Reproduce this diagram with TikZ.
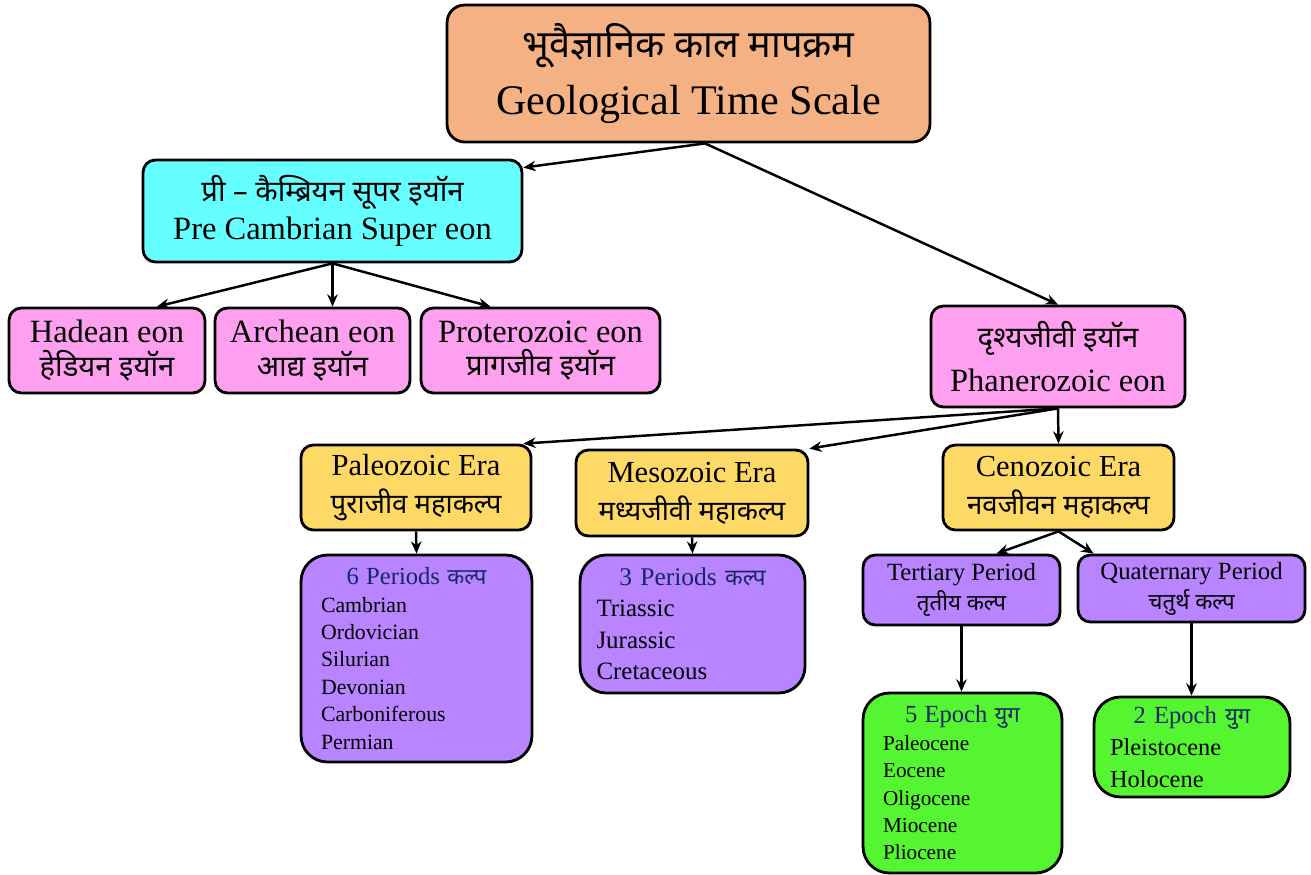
\documentclass[tikz,border=0pt]{standalone}
\usepackage{fontspec}
\setmainfont{Liberation Serif}
\newfontfamily\hin[Script=Devanagari,Scale=0.9]{Noto Sans}
\usetikzlibrary{arrows.meta,positioning}
\definecolor{titlefill}{HTML}{F4B183}
\definecolor{cyanfill}{HTML}{66FFFF}
\definecolor{eonfill}{HTML}{FF9FEF}
\definecolor{erafill}{HTML}{FFD966}
\definecolor{perfill}{HTML}{B884FF}
\definecolor{epfill}{HTML}{55F531}
\definecolor{hdrblue}{HTML}{152865}
\newcommand{\fs}[2]{\fontsize{#1}{#2}\selectfont}
\newcommand{\hdr}[1]{{\centering\color{hdrblue}#1\par}}

\begin{document}
\begin{tikzpicture}[
    x=0.02cm, y=-0.02cm,
    box/.style={draw, line width=1.6pt, rounded corners=7pt, align=center, inner sep=0pt},
    listbox/.style={box, align=left, rounded corners=15pt},
    arr/.style={-{Stealth[length=7pt,width=6pt]}, line width=1.4pt},
]
\useasboundingbox (0,0) rectangle (1311,875);

% top
\node[box, fill=titlefill, rounded corners=10pt, minimum width=9.66cm, minimum height=2.74cm,
  font=\fs{24}{32}] (title) at (688.5,73.5) {{\hin भूवैज्ञानिक काल मापक्रम}\\Geological Time Scale};

% pre cambrian
\node[box, fill=cyanfill, minimum width=7.58cm, minimum height=2.04cm, font=\fs{18.5}{22}]
  (pre) at (332.5,211) {{\hin प्री – कैम्ब्रियन सूपर इयॉन}\\Pre Cambrian Super eon};
\node[box, fill=eonfill, minimum width=3.92cm, minimum height=1.70cm, font=\fs{18.5}{19}]
  (had) at (107,350.5) {Hadean eon\\{\hin हेडियन इयॉन}};
\node[box, fill=eonfill, minimum width=3.90cm, minimum height=1.70cm, font=\fs{18.5}{19}]
  (arc) at (312.5,350.5) {Archean eon\\{\hin आद्य इयॉन}};
\node[box, fill=eonfill, minimum width=4.78cm, minimum height=1.70cm, font=\fs{18.5}{19}]
  (pro) at (540.5,350.5) {Proterozoic eon\\{\hin प्रागजीव इयॉन}};

% phanerozoic
\node[box, fill=eonfill, minimum width=5.08cm, minimum height=2.02cm, font=\fs{18.5}{25}]
  (phan) at (1058,356.5) {{\hin दृश्यजीवी इयॉन}\\Phanerozoic eon};
\node[box, fill=erafill, minimum width=4.60cm, minimum height=1.70cm, font=\fs{17.4}{21.5}]
  (pal) at (416,487.5) {Paleozoic Era\\{\hin पुराजीव महाकल्प}};
\node[box, fill=erafill, minimum width=4.64cm, minimum height=1.72cm, font=\fs{17.4}{21.5}]
  (meso) at (692,493) {Mesozoic Era\\{\hin मध्यजीवी महाकल्प}};
\node[box, fill=erafill, minimum width=4.62cm, minimum height=1.70cm, font=\fs{17.4}{21.5}]
  (ceno) at (1058.5,487.5) {Cenozoic Era\\{\hin नवजीवन महाकल्प}};

% periods
\node[listbox, fill=perfill, minimum width=4.62cm, minimum height=4.14cm, text width=3.82cm,
  font=\fs{12.4}{15.6}] (six) at (416.5,658.5)
  {\hdr{\fs{14}{16}6 Periods {\hin कल्प}}Cambrian\\Ordovician\\Silurian\\Devonian\\Carboniferous\\Permian};
\node[listbox, fill=perfill, minimum width=4.50cm, minimum height=2.76cm, text width=3.84cm,
  font=\fs{14.2}{17.9}] (three) at (692.5,624)
  {\hdr{\fs{14.5}{16}3 Periods {\hin कल्प}}Triassic\\Jurassic\\Cretaceous};
\node[box, fill=perfill, minimum width=3.94cm, minimum height=1.40cm, font=\fs{14.1}{17}]
  (ter) at (961.5,590) {Tertiary Period\\{\hin तृतीय कल्प}};
\node[box, fill=perfill, minimum width=4.54cm, minimum height=1.34cm, font=\fs{14.1}{17}]
  (quat) at (1191.5,588.5) {Quaternary Period\\{\hin चतुर्थ कल्प}};

% epochs
\node[listbox, fill=epfill, minimum width=3.98cm, minimum height=3.60cm, text width=3.18cm,
  font=\fs{12.1}{15.6}] (five) at (962.5,783)
  {\hdr{\fs{14}{16}5 Epoch {\hin युग}}Paleocene\\Eocene\\Oligocene\\Miocene\\Pliocene};
\node[listbox, fill=epfill, minimum width=3.92cm, minimum height=2.00cm, text width=3.28cm,
  font=\fs{13.9}{18}] (two) at (1192,747)
  {\hdr{\fs{14}{16}2 Epoch {\hin युग}}Pleistocene\\Holocene};

% connectors
\draw[arr] ([xshift=0.33cm]title.south) -- ([yshift=-0.18cm]pre.north east);
\draw[arr] ([xshift=0.33cm]title.south) -- (phan.north);
\draw[arr] (pre.south) -- ([xshift=1cm]had.north);
\draw[arr] (pre.south) -- (pre.south |- arc.north);
\draw[arr] (pre.south) -- ([xshift=-1cm]pro.north);
\draw[arr] (phan.south) -- ([xshift=-0.18cm]pal.north east);
\draw[arr] (phan.south) -- (meso.north east);
\draw[arr] (phan.south) -- (ceno.north);
\draw[arr] (pal.south) -- (six.north);
\draw[arr] (meso.south) -- (three.north);
\draw[arr] (ceno.south) -- ([xshift=0.7cm]ter.north);
\draw[arr] (ceno.south) -- ([xshift=0.34cm]quat.north west);
\draw[arr] (ter.south) -- (five.north -| ter.south);
\draw[arr] (quat.south) -- (two.north -| quat.south);
\end{tikzpicture}
\end{document}
